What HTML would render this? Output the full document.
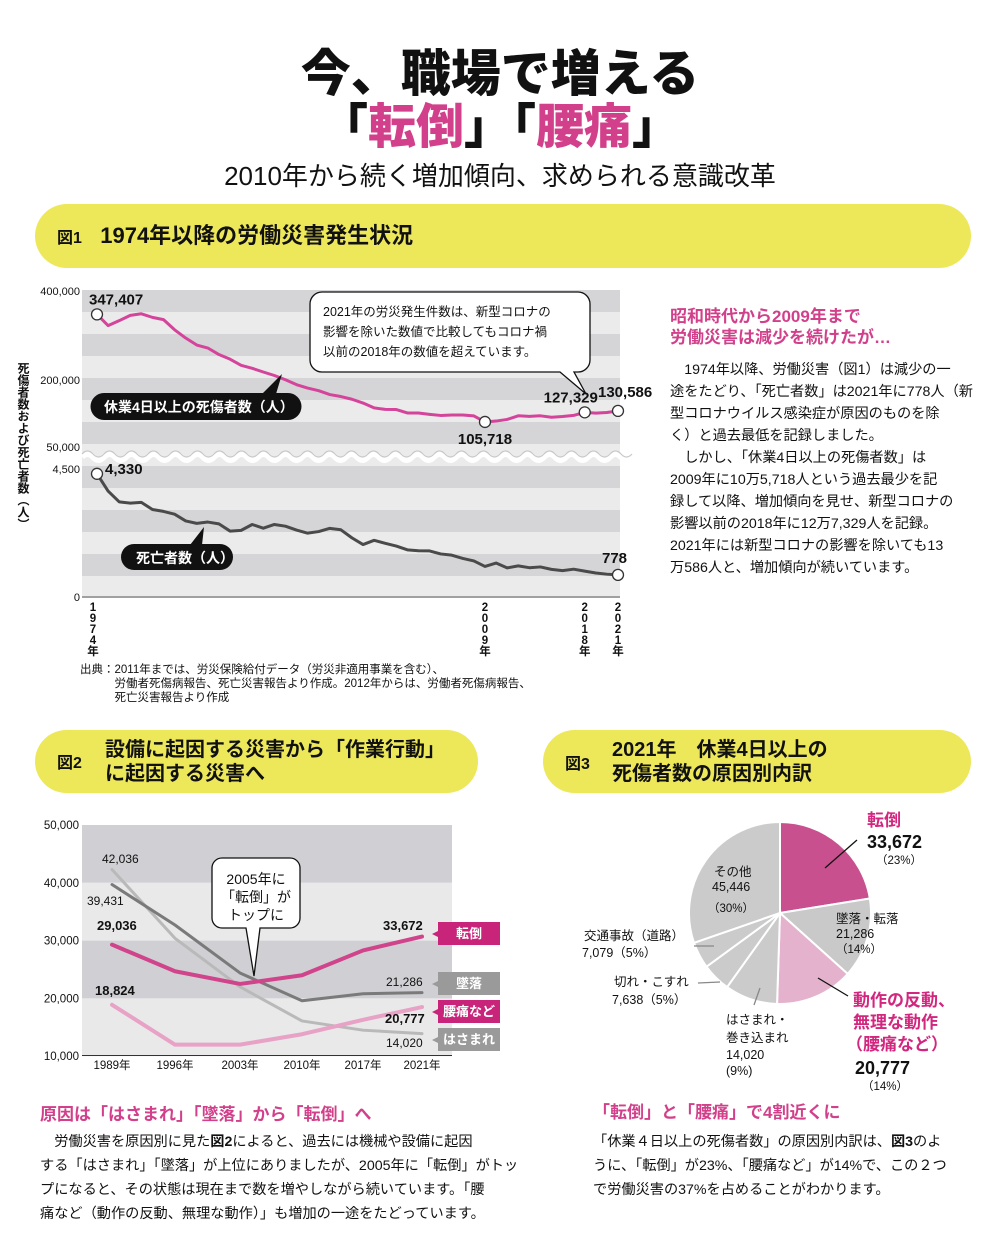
<!DOCTYPE html>
<html lang="ja"><head><meta charset="utf-8">
<style>
*{margin:0;padding:0;box-sizing:border-box}
body{width:1000px;height:1256px;background:#fff;position:relative;overflow:hidden;font-family:"Liberation Sans","Noto Sans CJK JP",sans-serif;color:#111}
.a{position:absolute;white-space:nowrap}
.bar{position:absolute;background:#ede85a;border-radius:32px}
.pk{color:#d2408b}
.body14{font-size:14.2px;line-height:22px}
svg text{font-family:"Liberation Sans","Noto Sans CJK JP",sans-serif}
</style></head><body>
<div class="a" style="left:0;width:1000px;text-align:center;top:46px;font-size:50px;font-weight:900;line-height:56px">今、職場で増える</div>
<div class="a" style="left:0;width:1000px;text-align:center;top:100px;font-size:48px;font-weight:900;line-height:56px">「<span class="pk">転倒</span>」「<span class="pk">腰痛</span>」</div>
<div class="a" style="left:0;width:1000px;text-align:center;top:160px;font-size:26px;line-height:32px">2010年から続く増加傾向、求められる意識改革</div>

<div class="bar" style="left:35px;top:204px;width:936px;height:64px"></div>
<div class="a" style="left:57px;top:222px;font-size:22px;font-weight:bold;line-height:28px"><span style="font-size:16px">図1</span>&nbsp;&nbsp;&nbsp;1974年以降の労働災害発生状況</div>

<div class="bar" style="left:35px;top:730px;width:443px;height:63px"></div>
<div class="a" style="left:57px;top:738px;font-size:20px;font-weight:bold;line-height:24px"><span style="font-size:16px;position:relative;top:12px">図2</span></div>
<div class="a" style="left:105px;top:738px;font-size:20px;font-weight:bold;line-height:24px">設備に起因する災害から「作業行動」<br>に起因する災害へ</div>

<div class="bar" style="left:543px;top:730px;width:428px;height:63px"></div>
<div class="a" style="left:565px;top:750px;font-size:16px;font-weight:bold">図3</div>
<div class="a" style="left:612px;top:738px;font-size:20px;font-weight:bold;line-height:24px">2021年　休業4日以上の<br>死傷者数の原因別内訳</div>

<div class="a pk" style="left:670px;top:306px;font-size:17px;font-weight:bold;line-height:21px">昭和時代から2009年まで<br>労働災害は減少を続けたが…</div>
<div class="a body14" style="left:670px;top:359px">　1974年以降、労働災害（図1）は減少の一<br>途をたどり、「死亡者数」は2021年に778人（新<br>型コロナウイルス感染症が原因のものを除<br>く）と過去最低を記録しました。<br>　しかし、「休業4日以上の死傷者数」は<br>2009年に10万5,718人という過去最少を記<br>録して以降、増加傾向を見せ、新型コロナの<br>影響以前の2018年に12万7,329人を記録。<br>2021年には新型コロナの影響を除いても13<br>万586人と、増加傾向が続いています。</div>

<div class="a" style="left:80px;top:663px;font-size:11.5px;line-height:14px">出典：2011年までは、労災保険給付データ（労災非適用事業を含む）、<br>　　　労働者死傷病報告、死亡災害報告より作成。2012年からは、労働者死傷病報告、<br>　　　死亡災害報告より作成</div>

<div class="a" style="left:16px;top:362px;font-size:12px;font-weight:bold;writing-mode:vertical-rl;line-height:14px">死傷者数および死亡者数（人）</div>

<div class="a pk" style="left:40px;top:1100px;font-size:17px;font-weight:bold">原因は「はさまれ」「墜落」から「転倒」へ</div>
<div class="a body14" style="left:40px;top:1130px;line-height:24px">　労働災害を原因別に見た<b>図2</b>によると、過去には機械や設備に起因<br>する「はさまれ」「墜落」が上位にありましたが、2005年に「転倒」がトッ<br>プになると、その状態は現在まで数を増やしながら続いています。「腰<br>痛など（動作の反動、無理な動作）」も増加の一途をたどっています。</div>

<div class="a pk" style="left:593px;top:1098px;font-size:17px;font-weight:bold">「転倒」と「腰痛」で4割近くに</div>
<div class="a body14" style="left:593px;top:1130px;line-height:24px">「休業４日以上の死傷者数」の原因別内訳は、<b>図3</b>のよ<br>うに、「転倒」が23%、「腰痛など」が14%で、この２つ<br>で労働災害の37%を占めることがわかります。</div>

<svg id="chart" width="1000" height="1256" style="position:absolute;left:0;top:0"></svg>

<script>
// ---- Figure 1 data ----
const years1 = [1974,1975,1976,1977,1978,1979,1980,1981,1982,1983,1984,1985,1986,1987,1988,1989,1990,1991,1992,1993,1994,1995,1996,1997,1998,1999,2000,2001,2002,2003,2004,2005,2006,2007,2008,2009,2010,2011,2012,2013,2014,2015,2016,2017,2018,2019,2020,2021];
const injuries = [347407,322322,333311,345293,348826,340731,335706,312844,294319,278623,271884,257240,246891,232953,226318,217964,210108,200633,189589,181900,176047,167316,162862,156726,148248,137316,133948,133598,125918,125750,122804,120354,121378,121356,119291,105718,107759,111349,119576,118157,119535,116311,117910,120460,127329,125611,127000,130586];
const deaths = [4330,3725,3345,3302,3326,3077,3009,2912,2674,2588,2635,2572,2318,2342,2549,2419,2550,2489,2354,2245,2301,2414,2363,2078,1844,1992,1889,1790,1658,1628,1620,1514,1472,1357,1268,1075,1195,1024,1093,1030,1057,972,928,978,909,845,802,778];
const upperTicks = [400000,200000,50000];
const lowerTicks = [4500,0];
const markedYears = [1974,2009,2018,2021];
// ---- Figure 2 data ----
const cats2 = ["1989年","1996年","2003年","2010年","2017年","2021年"];
const tentou = [29300,24700,22500,24000,28300,30700];
const tsuiraku = [39700,32700,24400,19600,20800,21000];
const hasamare = [42300,30400,22000,16100,14500,13900];
const youtsu = [18900,12000,12000,13800,16300,18500];
const ticks2 = [50000,40000,30000,20000,10000];
// ---- Figure 3 data ----
const pieNames = ["転倒","墜落・転落","動作の反動、無理な動作","はさまれ・巻き込まれ","切れ・こすれ","交通事故（道路）","その他"];
const pieValues = [33672,21286,20777,14020,7638,7079,45446];
const piePct = [23,14,14,9,5,5,30];

const NS="http://www.w3.org/2000/svg";
const svg=document.getElementById('chart');
function mk(tag,attrs,parent){const e=document.createElementNS(NS,tag);for(const k in attrs)e.setAttribute(k,attrs[k]);(parent||svg).appendChild(e);return e;}
function txt(s,x,y,attrs){const t=mk('text',Object.assign({x:x,y:y,'font-size':12,fill:'#111'},attrs||{}));t.textContent=s;return t;}
const fmt=v=>v.toLocaleString('en-US');

// ---------- Figure 1 ----------
const X1=y=>97+(y-1974)*(618-97)/47;
const YU=v=>291+(400000-v)*0.000445;
const YL=v=>597-v*128/4500;
const g1=mk('g',{});


for(let i=0;i<14;i++){
  const r=mk('rect',{x:82,y:290+i*22,width:538,height:22,fill:i%2?'#ebebec':'#d5d5d8'},g1);
  
  
}
let wd='M82 457';
for(let x=82;x<622;x+=22){wd+=` q5.5 -6 11 0 q5.5 6 11 0`;}
const wv=mk('path',{d:wd,stroke:'#fff',fill:'none','stroke-width':6},g1);


const wv2=mk('path',{d:wd,stroke:'#c8c8c8',fill:'none','stroke-width':1.2,transform:'translate(0,-3)'},g1);


const ax1=mk('line',{x1:82,y1:597,x2:620,y2:597,stroke:'#555','stroke-width':1},g1);


upperTicks.forEach(v=>{const t=txt(fmt(v),80,YU(v)+4,{'text-anchor':'end','font-size':11});
  
  });
lowerTicks.forEach(v=>{const t=txt(fmt(v),80,YL(v)+4,{'text-anchor':'end','font-size':11});
  
  });
const inj=mk('polyline',{points:years1.map((y,i)=>X1(y)+','+YU(injuries[i])).join(' '),fill:'none',stroke:'#d4449a','stroke-width':3,'stroke-linejoin':'round'},g1);


const dth=mk('polyline',{points:years1.map((y,i)=>X1(y)+','+YL(deaths[i])).join(' '),fill:'none',stroke:'#4a4a4a','stroke-width':3,'stroke-linejoin':'round'},g1);


const injMarks=[[1974,-8,-10,'start'],[2009,0,22,'middle'],[2018,-14,-10,'middle'],[2021,-20,-14,'start']];
injMarks.forEach(m=>{const i=years1.indexOf(m[0]);const cx=X1(m[0]),cy=YU(injuries[i]);
  const c=mk('circle',{cx:cx,cy:cy,r:5.5,fill:'#fff',stroke:'#333','stroke-width':1.3},g1);
  
  
  const t=txt(fmt(injuries[i]),cx+m[1],cy+m[2],{'font-size':15,'font-weight':'bold','text-anchor':m[3]});
  
  });
[[1974,8,0],[2021,-16,-12]].forEach(m=>{const i=years1.indexOf(m[0]);const cx=X1(m[0]),cy=YL(deaths[i]);
  const c=mk('circle',{cx:cx,cy:cy,r:5.5,fill:'#fff',stroke:'#333','stroke-width':1.3},g1);
  
  
  const t=txt(fmt(deaths[i]),cx+m[1],cy+m[2],{'font-size':15,'font-weight':'bold'});
  
  });
markedYears.forEach(y=>{const chars=(String(y)+'年').split('');
  chars.forEach((ch,k)=>{const t=txt(ch,X1(y)-(y===1974?4:0),611+k*11,{'font-size':11.5,'font-weight':'bold','text-anchor':'middle'});
    
    });});
const p1=mk('path',{d:'M104 393 h184 a13 13 0 0 1 0 27 h-184 a13 13 0 0 1 0 -27 Z M262 394 L282 374 L276 394 Z',fill:'#111'},g1);


const pt1=txt('休業4日以上の死傷者数（人）',104,412,{fill:'#fff','font-size':14,'font-weight':'bold'});


const p2=mk('path',{d:'M134 544 h86 a13 13 0 0 1 0 26 h-86 a13 13 0 0 1 0 -26 Z M190 545 L204 527 L202 545 Z',fill:'#111'},g1);


const pt2=txt('死亡者数（人）',136,563,{fill:'#fff','font-size':14,'font-weight':'bold'});


const cb=mk('path',{d:'M322 292 h256 a12 12 0 0 1 12 12 v56 a12 12 0 0 1 -12 12 h-4 l12 22 l-26 -22 h-238 a12 12 0 0 1 -12 -12 v-56 a12 12 0 0 1 12 -12 Z',fill:'#fff',stroke:'#111','stroke-width':1.3},g1);


['2021年の労災発生件数は、新型コロナの','影響を除いた数値で比較してもコロナ禍','以前の2018年の数値を超えています。'].forEach((s,k)=>{
  const t=txt(s,323,316+k*20,{'font-size':12.5});
  
  });

// ---------- Figure 2 ----------
const xs2=[112,175,240,302,363,422];
const Y2=v=>825+(50000-v)*0.00578;
const g2=mk('g',{});


for(let i=0;i<4;i++){
  const r=mk('rect',{x:82,y:Y2(ticks2[i]),width:370,height:Y2(ticks2[i+1])-Y2(ticks2[i]),fill:i%2?'#e9e9ea':'#d0d0d4'},g2);
  
  
}
const ax2=mk('line',{x1:82,y1:1055.5,x2:452,y2:1055.5,stroke:'#333','stroke-width':1},g2);


ticks2.forEach(v=>{const t=txt(fmt(v),79,Y2(v)+4,{'text-anchor':'end','font-size':11.5});
  
  });
cats2.forEach((c,i)=>{const t=txt(c,xs2[i],1069,{'text-anchor':'middle','font-size':11.5});
  
  });
function line2(arr,color,w,name){const p=mk('polyline',{points:arr.map((v,i)=>xs2[i]+','+Y2(v)).join(' '),fill:'none',stroke:color,'stroke-width':w,'stroke-linejoin':'round','stroke-linecap':'round'},g2);
  
  }
line2(hasamare,'#b9b9b9',3,'hasamare-line');
line2(tsuiraku,'#7a7a7a',3,'tsuiraku-line');
line2(youtsu,'#e8a2c6',4,'youtsu-line');
line2(tentou,'#d0448c',4,'tentou-line');
const vl=[['29,036',97,930,true],['18,824',95,995,true],['42,036',102,863,false],['39,431',87,905,false],['33,672',383,930,true],['21,286',386,986,false],['20,777',385,1023,true],['14,020',386,1047,false]];
vl.forEach(v=>{const t=txt(v[0],v[1],v[2],{'font-size':v[3]?13:12,'font-weight':v[3]?'bold':'normal'});
  
  });
const tags=[['転倒','#c8247a',922],['墜落','#9a9a9a',972],['腰痛など','#c8247a',1000],['はさまれ','#9a9a9a',1028]];
tags.forEach(tg=>{const r=mk('path',{d:`M438 ${tg[2]} h62 v23 h-62 v-8 l-6 -3 l6 -3 Z`,fill:tg[1]},g2);
  
  
  const t=txt(tg[0],469,tg[2]+16,{'font-size':13,'font-weight':'bold',fill:'#fff','text-anchor':'middle'});
  
  });
const cb2=mk('path',{d:'M222 858 h68 a10 10 0 0 1 10 10 v50 a10 10 0 0 1 -10 10 h-30 l-6 48 l-8 -48 h-24 a10 10 0 0 1 -10 -10 v-50 a10 10 0 0 1 10 -10 Z',fill:'#fff',stroke:'#111','stroke-width':1.3},g2);


['2005年に','「転倒」が','トップに'].forEach((s,k)=>{const t=txt(s,256,884+k*18,{'font-size':14,'text-anchor':'middle'});
  
  });

// ---------- Figure 3 ----------
const cx=780,cy=913,R=91;
const total=pieValues.reduce((a,b)=>a+b,0);
const pieColors=['#c9508f','#c9c9c9','#e4b2cd','#cbcbcb','#cbcbcb','#cbcbcb','#cbcbcb'];
const g3=mk('g',{});


let acc=0;
pieValues.forEach((v,i)=>{const a0=acc/total*2*Math.PI;acc+=v;const a1=acc/total*2*Math.PI;
  const x0=cx+R*Math.sin(a0),y0=cy-R*Math.cos(a0),x1=cx+R*Math.sin(a1),y1=cy-R*Math.cos(a1);
  const s=mk('path',{d:`M${cx} ${cy} L${x0} ${y0} A${R} ${R} 0 ${a1-a0>Math.PI?1:0} 1 ${x1} ${y1} Z`,fill:pieColors[i],stroke:'#fff','stroke-width':2},g3);
  
  });
const pct=i=>'（'+piePct[i]+'%）';
function pl(s,x,y,a){const t=txt(s,x,y,a);return t;}
pl('転倒',867,826,{'font-size':17,'font-weight':'bold',fill:'#d2267f'});
pl(fmt(pieValues[0]),867,848,{'font-size':18,'font-weight':'bold'});
pl(pct(0),876,864,{'font-size':11.5});
pl('墜落・転落',836,923,{'font-size':12.5});
pl(fmt(pieValues[1]),836,938,{'font-size':12.5});
pl(pct(1),836,953,{'font-size':11.5});
pl('動作の反動、',853,1006,{'font-size':17,'font-weight':'bold',fill:'#d2267f'});
pl('無理な動作',853,1028,{'font-size':17,'font-weight':'bold',fill:'#d2267f'});
pl('（腰痛など）',846,1050,{'font-size':17,'font-weight':'bold',fill:'#d2267f'});
pl(fmt(pieValues[2]),855,1074,{'font-size':18,'font-weight':'bold'});
pl(pct(2),862,1090,{'font-size':11.5});
pl('はさまれ・',726,1024,{'font-size':12.5});
pl('巻き込まれ',726,1042,{'font-size':12.5});
pl(fmt(pieValues[3]),726,1059,{'font-size':12.5});
pl('('+piePct[3]+'%)',726,1075,{'font-size':12.5});
pl('切れ・こすれ',614,986,{'font-size':12.5});
pl(fmt(pieValues[4])+pct(4),612,1004,{'font-size':12.5});
pl('交通事故（道路）',584,940,{'font-size':12.5});
pl(fmt(pieValues[5])+pct(5),582,957,{'font-size':12.5});
pl('その他',714,876,{'font-size':12.5});
pl(fmt(pieValues[6]),712,891,{'font-size':12.5});
pl(pct(6),708,912,{'font-size':11.5});
[[825,868,857,840],[818,978,848,996],[760,988,754,1005],[720,982,698,983],[714,946,694,946]].forEach(l=>{
  const e=mk('line',{x1:l[0],y1:l[1],x2:l[2],y2:l[3],stroke:l[0]>800?'#111':'#888','stroke-width':1.3},g3);
  
  });
</script>
</body></html>
